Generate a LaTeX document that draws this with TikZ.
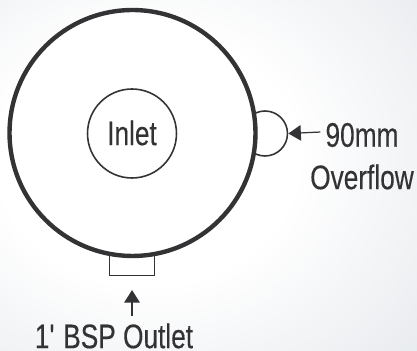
\documentclass[tikz,border=0pt]{standalone}
\usepackage{fontspec}
\setmainfont[FakeStretch=0.77,FakeBold=0.25]{Liberation Sans}
\usetikzlibrary{arrows.meta}
\definecolor{inkgray}{rgb}{0.2, 0.2, 0.21}
\definecolor{edgegray}{rgb}{0.875, 0.89, 0.91}
\pgfdeclareradialshading{backglow}{\pgfpoint{-9bp}{3bp}}{color(0bp)=(white); color(18bp)=(white); color(50bp)=(edgegray); color(100bp)=(edgegray)}
\tikzstyle{ball}=[circle, draw=inkgray, inner sep=0pt, fill=white]
\tikzstyle{tank}=[ball, line width=2.5pt, minimum size=4.92cm]
\tikzstyle{inlet}=[ball, line width=.9pt, minimum size=1.78cm]
\tikzstyle{overflow}=[ball, line width=.9pt, minimum size=.9cm]
\tikzstyle{outlet}=[draw=inkgray, fill=white, line width=.9pt, inner sep=0pt, minimum width=.9cm, minimum height=.5cm]
\tikzstyle{pointer}=[-{Triangle[length=.25cm, width=.31cm]}, color=inkgray, line width=.7pt]
\tikzstyle{label}=[text=inkgray, inner sep=0pt, font=\fontsize{19.4}{22}\selectfont]

\begin{document}
\begin{tikzpicture}[scale=.02, yscale=-1]

	\useasboundingbox (0,0) rectangle (417,351);
	\shade[shading=backglow] (0,0) rectangle (417,351);

	\node[overflow] (spill) at (265,133.5) {};
	\node[outlet] (pipe) at (132,263) {};
	\node[tank] (body) at (132.5,133) {};
	\node[inlet] (inner) at (132,133.5) {};

	\node[label] (inletname) at (132,133) {Inlet};
	\node[label] (spillsize) at (362,135) {90mm};
	\node[label] (spillname) at (362,177) {Overflow};
	\node[label] (pipename) at (114,336) {1\textquotesingle{} BSP Outlet};

	\coordinate (pipetip) at (132,290);
	\coordinate (pipefoot) at (132,316);

	\draw[pointer] (spillsize.west) ++(-5,-3) -- (spill.east);
	\draw[pointer] (pipefoot) -- (pipetip);

\end{tikzpicture}
\end{document}
